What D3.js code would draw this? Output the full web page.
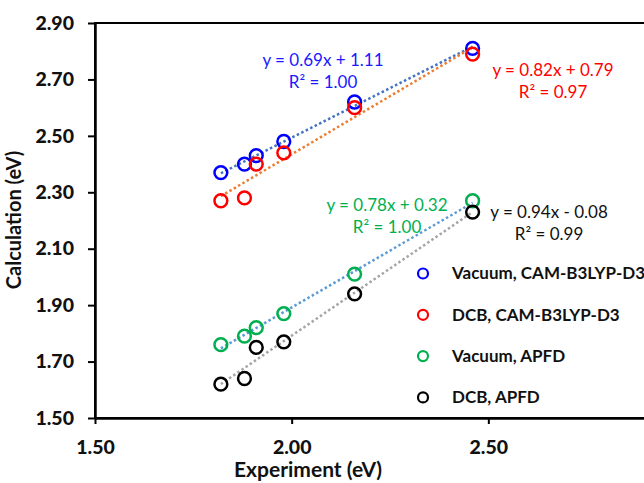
<!DOCTYPE html>
<html>
<head>
<meta charset="utf-8">
<script src="https://cdn.jsdelivr.net/npm/d3@7"></script>
<style>
  body { margin: 0; background: #fff; }
  text { font-family: Lato, "Open Sans", sans-serif; }
</style>
</head>
<body>
<div id="chart"></div>
<script>
var width = 644;
var height = 483;

// experimental excitation energies (eV)
var experiment = [1.82, 1.88, 1.91, 1.98, 2.16, 2.46];

// calculated values per method
var vacuumCam = [2.37, 2.40, 2.43, 2.48, 2.62, 2.81];
var dcbCam = [2.27, 2.28, 2.40, 2.44, 2.60, 2.79];
var vacuumApfd = [1.76, 1.79, 1.82, 1.87, 2.01, 2.27];
var dcbApfd = [1.62, 1.64, 1.75, 1.77, 1.94, 2.23];

var seriesNames = ["Vacuum, CAM-B3LYP-D3", "DCB, CAM-B3LYP-D3", "Vacuum, APFD", "DCB, APFD"];
var seriesValues = [vacuumCam, dcbCam, vacuumApfd, dcbApfd];
var equations = ["y = 0.69x + 1.11", "y = 0.82x + 0.79", "y = 0.78x + 0.32", "y = 0.94x - 0.08"];
var rSquared = ["R\u00b2 = 1.00", "R\u00b2 = 0.97", "R\u00b2 = 1.00", "R\u00b2 = 0.99"];

// 3.00 sits past the right edge of the picture, so only these show
var xTicks = [1.5, 2.0, 2.5];
var yTicks = [1.5, 1.7, 1.9, 2.1, 2.3, 2.5, 2.7, 2.9];

var markerColors = ["#0000ff", "#ff0000", "#00b050", "#000000"];
var trendColors = ["#4472c4", "#ed7d31", "#5b9bd5", "#a5a5a5"];
var labelColors = ["#1a1aff", "#ff0000", "#00b050", "#111111"];
// label centres in pixels (line 1 y, line 2 y)
var labelPos = [[323, 60, 82], [553, 70, 92], [387, 205, 227], [549, 212, 234]];

var x = d3.scaleLinear().domain([1.5, 3.0]).range([95, 685]);
var y = d3.scaleLinear().domain([1.5, 2.9]).range([418, 23]);

var svg = d3.select("#chart").append("svg")
    .attr("width", width)
    .attr("height", height);

// plot frame (right edge falls outside the picture)
svg.append("rect")
    .attr("x", x(1.5)).attr("y", y(2.9))
    .attr("width", x(3.0) - x(1.5)).attr("height", y(1.5) - y(2.9))
    .attr("fill", "none").attr("stroke", "#000").attr("stroke-width", 2);

var xAxis = svg.append("g")
    .attr("transform", "translate(0," + y(1.5) + ")")
    .call(d3.axisBottom(x).tickValues(xTicks).tickFormat(d3.format(".2f")).tickSizeInner(6).tickSizeOuter(0));
var yAxis = svg.append("g")
    .attr("transform", "translate(" + x(1.5) + ",0)")
    .call(d3.axisLeft(y).tickValues(yTicks).tickFormat(d3.format(".2f")).tickSizeInner(7).tickSizeOuter(0));

[xAxis, yAxis].forEach(function(a) {
    a.select(".domain").attr("stroke", "#000").attr("stroke-width", 2.5);
    a.selectAll(".tick line").attr("stroke", "#000").attr("stroke-width", 2);
    a.selectAll(".tick text")
        .attr("fill", "#111")
        .style("font-size", "19.5px")
        .style("font-weight", "900");
});
xAxis.selectAll(".tick text").attr("y", 22);
yAxis.selectAll(".tick text").attr("x", -21);

svg.append("text")
    .attr("x", 308).attr("y", 477)
    .attr("text-anchor", "middle")
    .attr("fill", "#111")
    .style("font-size", "21px").style("font-weight", "bold")
    .text("Experiment (eV)");

svg.append("text")
    .attr("transform", "translate(21,220) rotate(-90)")
    .attr("text-anchor", "middle")
    .attr("fill", "#111")
    .style("font-size", "20px").style("font-weight", "bold")
    .text("Calculation (eV)");

// least squares fit for each series
function fit(xs, ys) {
    var mx = d3.mean(xs), my = d3.mean(ys);
    var sxy = 0, sxx = 0;
    for (var i = 0; i < xs.length; i++) {
        sxy += (xs[i] - mx) * (ys[i] - my);
        sxx += (xs[i] - mx) * (xs[i] - mx);
    }
    var m = sxy / sxx;
    return { m: m, b: my - m * mx };
}

var xMin = d3.min(experiment), xMax = d3.max(experiment);

seriesValues.forEach(function(vals, k) {
    var f = fit(experiment, vals);
    svg.append("line")
        .attr("x1", x(xMin)).attr("y1", y(f.m * xMin + f.b))
        .attr("x2", x(xMax)).attr("y2", y(f.m * xMax + f.b))
        .attr("stroke", trendColors[k])
        .attr("stroke-width", 2.5)
        .attr("stroke-dasharray", "2.5,2.5");
});

seriesValues.forEach(function(vals, k) {
    svg.append("g").selectAll("circle")
        .data(vals)
        .enter()
        .append("circle")
        .attr("cx", function(d, i) { return x(experiment[i]); })
        .attr("cy", function(d) { return y(d); })
        .attr("r", 6.4)
        .attr("fill", "none")
        .attr("stroke", markerColors[k])
        .attr("stroke-width", 2.5);
});

// equation labels
equations.forEach(function(eq, k) {
    var p = labelPos[k];
    svg.append("text")
        .attr("x", p[0]).attr("y", p[1])
        .attr("dy", "0.35em")
        .attr("text-anchor", "middle")
        .attr("fill", labelColors[k])
        .style("font-size", "17px")
        .text(eq);
    svg.append("text")
        .attr("x", p[0]).attr("y", p[2])
        .attr("dy", "0.35em")
        .attr("text-anchor", "middle")
        .attr("fill", labelColors[k])
        .style("font-size", "17px")
        .text(rSquared[k]);
});

// legend
var legend = svg.append("g").selectAll("g")
    .data(seriesNames)
    .enter()
    .append("g")
    .attr("transform", function(d, i) { return "translate(423," + (273.5 + i * 41.3) + ")"; });

legend.append("circle")
    .attr("r", 5)
    .attr("fill", "none")
    .attr("stroke", function(d, i) { return markerColors[i]; })
    .attr("stroke-width", 2.2);

legend.append("text")
    .attr("x", 29)
    .attr("dy", "0.35em")
    .attr("fill", "#111")
    .style("font-size", "17px")
    .style("font-weight", "bold")
    .text(function(d) { return d; });
</script>
</body>
</html>
